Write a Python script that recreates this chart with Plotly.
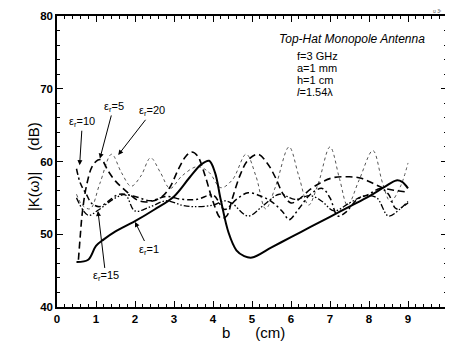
import plotly.graph_objects as go

# ---- data ----
x_e1 = [0.5, 0.8, 1.0, 1.2, 1.5, 2.0, 2.5, 3.0, 3.4, 3.7, 3.9, 4.05, 4.2, 4.4, 4.6, 4.8, 5.0, 5.5, 6.0, 6.5, 7.0, 7.5, 8.0, 8.4, 8.7, 8.85, 9.0]
y_e1 = [46.2, 46.5, 48.4, 49.3, 50.4, 51.8, 53.4, 55.2, 57.8, 59.6, 60.1, 58.5, 54.7, 50.2, 47.8, 47.0, 46.8, 48.2, 49.6, 51.0, 52.4, 53.8, 55.2, 56.5, 57.4, 57.2, 56.3]

x_e5 = [0.55, 0.6, 0.65, 0.75, 0.9, 1.05, 1.15, 1.3, 1.5, 1.8, 2.1, 2.4, 2.7, 2.9, 3.1, 3.3, 3.45, 3.6, 3.8, 4.0, 4.2, 4.35, 4.5, 4.7, 4.9, 5.15, 5.4, 5.6, 5.8, 6.0, 6.2, 6.5, 6.8, 7.1, 7.5, 7.8, 8.1, 8.4, 8.7, 9.0]
y_e5 = [46.5, 50.0, 53.0, 56.5, 59.3, 60.2, 60.2, 58.8, 57.3, 55.8, 54.6, 54.5, 55.2, 56.5, 58.8, 60.7, 61.3, 60.8, 58.0, 54.5, 52.2, 52.5, 55.0, 58.2, 60.2, 61.0, 59.7, 57.8, 55.5, 54.3, 54.8, 56.2, 57.2, 57.8, 57.9, 57.7, 57.0, 56.3, 56.0, 55.8]

x_e10 = [0.5, 0.6, 0.75, 0.9, 1.1, 1.3, 1.6, 2.0, 2.4, 2.8, 3.2, 3.6, 4.0, 4.3, 4.6, 4.9, 5.2, 5.5, 5.8, 5.95, 6.2, 6.5, 6.8, 7.0, 7.2, 7.4, 7.7, 8.0, 8.3, 8.5, 8.7, 9.0]
y_e10 = [59.0, 57.0, 55.5, 54.2, 53.8, 54.5, 55.5, 55.2, 54.6, 55.2, 54.8, 54.8, 55.4, 53.4, 54.8, 55.7, 55.3, 54.5, 53.0, 52.0, 53.5, 55.5, 56.3, 55.0, 52.5, 53.0, 54.8, 55.5, 56.3, 55.5, 53.5, 54.3]

x_e15 = [0.5, 0.8, 1.05, 1.5, 1.75, 2.0, 2.4, 2.8, 3.2, 3.5, 4.0, 4.3, 4.5, 4.9, 5.3, 5.7, 6.1, 6.5, 6.8, 7.1, 7.5, 7.9, 8.2, 8.5, 8.8, 9.0]
y_e15 = [55.0, 52.6, 53.3, 55.0, 55.4, 53.2, 53.8, 54.6, 54.0, 53.8, 54.0, 54.6, 54.2, 52.5, 54.0, 55.5, 54.8, 55.3, 54.5, 53.2, 54.3, 55.3, 55.0, 52.5, 53.5, 54.5]

x_e20 = [0.5, 0.65, 0.85, 1.1, 1.4, 1.65, 1.9, 2.15, 2.4, 2.65, 2.9, 3.2, 3.6, 3.9, 4.2, 4.5, 4.85, 5.1, 5.35, 5.6, 5.95, 6.2, 6.45, 6.7, 7.0, 7.25, 7.45, 7.75, 8.1, 8.35, 8.55, 8.8, 9.0]
y_e20 = [55.5, 54.0, 53.5, 57.0, 61.0, 58.5, 56.6, 58.0, 60.5, 58.5, 56.3, 58.0, 59.3, 58.5, 56.4, 57.5, 61.0, 58.0, 53.5, 56.5, 62.0, 58.0, 54.0, 57.0, 62.0, 57.5, 54.0, 57.5, 61.5, 57.0, 54.5, 56.5, 59.8]

x_ticks = [0, 1, 2, 3, 4, 5, 6, 7, 8, 9, 10]
y_ticks = [40, 50, 60, 70, 80]

labels = ["ε<sub>r</sub>=10", "ε<sub>r</sub>=5", "ε<sub>r</sub>=20", "ε<sub>r</sub>=15", "ε<sub>r</sub>=1"]
label_pos = [(0.65, 65.4), (1.45, 67.5), (2.44, 66.9), (1.25, 44.2), (2.35, 47.9)]
arrow_tip = [(0.58, 59.5), (1.1, 60.4), (1.57, 60.9), (1.05, 53.2), (2.0, 51.7)]

title_line = "<i>Top-Hat Monopole Antenna</i>"
info_lines = ["f=3 GHz", "a=1 mm", "h=1 cm", "<i>l</i>=1.54λ"]
info_y = [74.5, 72.85, 71.2, 69.55]

FONT = "Arial, Liberation Sans, sans-serif"

fig = go.Figure()
fig.add_trace(go.Scatter(x=x_e20, y=y_e20, mode="lines", line=dict(color="#555", width=1, dash="dot", shape="spline")))
fig.add_trace(go.Scatter(x=x_e15, y=y_e15, mode="lines", line=dict(color="black", width=1.3, dash="6px,2px,1.5px,2px,1.5px,2px", shape="spline")))
fig.add_trace(go.Scatter(x=x_e10, y=y_e10, mode="lines", line=dict(color="black", width=1.5, dash="6px,3px,2px,3px", shape="spline")))
fig.add_trace(go.Scatter(x=x_e5, y=y_e5, mode="lines", line=dict(color="black", width=1.6, dash="7px,4px", shape="spline")))
fig.add_trace(go.Scatter(x=x_e1, y=y_e1, mode="lines", line=dict(color="black", width=2, shape="spline")))

for lab, (lx, ly), (tx, ty) in zip(labels, label_pos, arrow_tip):
    fig.add_annotation(x=tx, y=ty, ax=lx, ay=ly, axref="x", ayref="y", xref="x", yref="y",
                       text=lab, showarrow=True, arrowhead=2, arrowsize=1, arrowwidth=1,
                       arrowcolor="black", font=dict(family=FONT, size=11, color="black"))

fig.add_annotation(x=5.63, y=76.8, xref="x", yref="y", xanchor="left", text=title_line,
                   showarrow=False, font=dict(family=FONT, size=12, color="black"))
for t, yy in zip(info_lines, info_y):
    fig.add_annotation(x=6.1, y=yy, xref="x", yref="y", xanchor="left", text=t,
                       showarrow=False, font=dict(family=FONT, size=11, color="black"))
fig.add_annotation(x=0.99, y=1.0, xref="paper", yref="paper", xanchor="right", yanchor="bottom",
                   text="ʊ 3ᵗ", showarrow=False, font=dict(family=FONT, size=5, color="#555"))

# axis titles placed as annotations for exact positioning
fig.add_annotation(x=0.503, y=-0.089, xref="paper", yref="paper", xanchor="center", yanchor="middle",
                   text="b      (cm)", showarrow=False, font=dict(family=FONT, size=15, color="black"))
fig.add_annotation(x=-0.0615, y=0.481, xref="paper", yref="paper", xanchor="center", yanchor="middle",
                   text="|K(ω)|     (dB)", textangle=-90, showarrow=False,
                   font=dict(family=FONT, size=15, color="black"))

axis_common = dict(showline=True, linecolor="black", linewidth=1.5, mirror="ticks",
                   ticks="inside", ticklen=6, tickwidth=1, tickcolor="black",
                   showgrid=False, zeroline=False, automargin=False,
                   tickfont=dict(family=FONT, size=11.5, color="black", weight="bold"))

fig.update_xaxes(range=[0, 10], tickvals=x_ticks, ticktext=[str(v) for v in x_ticks],
                 minor=dict(dtick=0.2, ticks="inside", ticklen=3, tickcolor="black"),
                 **axis_common)
fig.update_yaxes(range=[40, 80], tickvals=y_ticks, ticktext=[str(v) for v in y_ticks],
                 minor=dict(dtick=2, ticks="inside", ticklen=3, tickcolor="black"),
                 **axis_common)

# page body has an 8px default margin; size the figure so the plot area lands where the reference has it
fig.update_layout(width=445, height=345, margin=dict(l=49, r=6, t=8, b=46, autoexpand=False),
                  paper_bgcolor="white", plot_bgcolor="white", showlegend=False)

fig.write_html("out.html")
